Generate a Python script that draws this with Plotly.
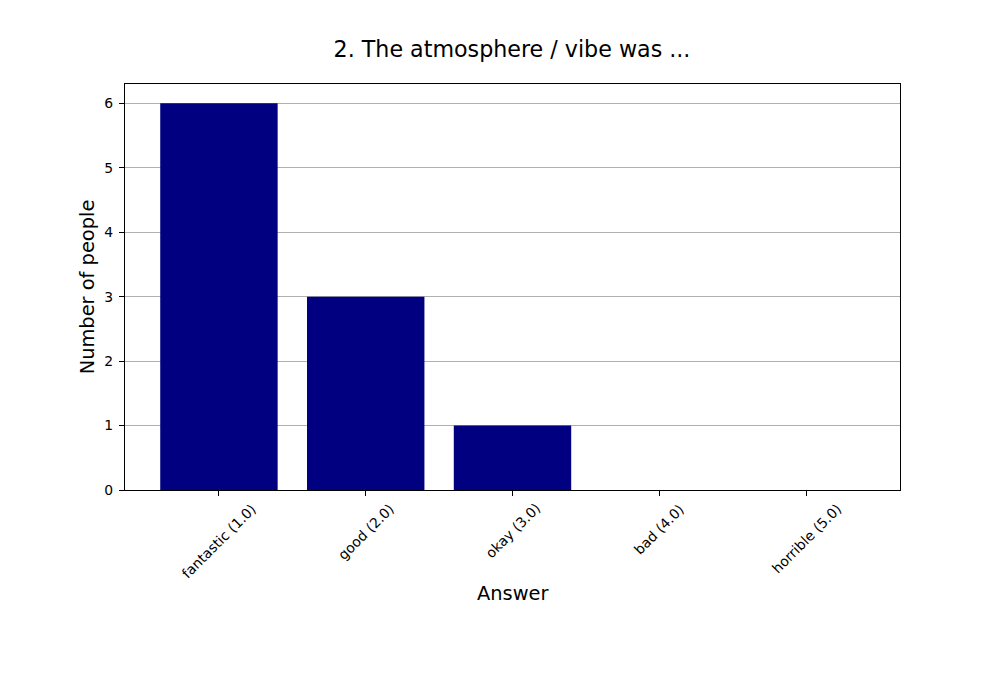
import plotly.graph_objects as go

categories = ["fantastic (1.0)", "good (2.0)", "okay (3.0)", "bad (4.0)", "horrible (5.0)"]
counts = [6, 3, 1, 0, 0]
y_ticks = [0, 1, 2, 3, 4, 5, 6]

FONT = "DejaVu Sans"
xs = list(range(len(categories)))

fig = go.Figure(go.Bar(x=xs, y=counts, width=0.8, marker=dict(color="#000080", line=dict(width=0))))

annotations = []
for i, lab in enumerate(categories):
    annotations.append(dict(x=i, xref="x", y=0, yref="paper", yanchor="top", xanchor="center",
                            text=lab, textangle=-45, showarrow=False, yshift=-8,
                            font=dict(family=FONT, size=13.9, color="black")))
annotations.append(dict(x=0.5, xref="paper", y=-0.255, yref="paper", yanchor="middle", xanchor="center",
                        text="Answer", showarrow=False, font=dict(family=FONT, size=19.4, color="black")))

fig.update_layout(
    width=1000, height=700,
    margin=dict(l=117, r=108, t=76, b=218),
    paper_bgcolor="white", plot_bgcolor="white",
    title=dict(text="2. The atmosphere / vibe was ...", x=(512 - 8) / 1000, xanchor="center", y=1 - 41 / 700, yanchor="middle",
               font=dict(family=FONT, size=22.2, color="black")),
    font=dict(family=FONT, color="black"),
    showlegend=False,
    bargap=0.2,
    annotations=annotations,
)
fig.update_xaxes(range=[-0.64, 4.64], tickvals=xs, ticktext=[""] * len(xs), showgrid=False, zeroline=False,
                 ticks="outside", ticklen=5, tickwidth=1.1, tickcolor="black",
                 showline=True, linecolor="black", linewidth=1.1, mirror=True)
fig.update_yaxes(range=[0, 6.3], tickvals=y_ticks, showgrid=True, gridcolor="#b0b0b0", gridwidth=1.1, zeroline=False,
                 ticks="outside", ticklen=5, tickwidth=1.1, tickcolor="black",
                 showline=True, linecolor="black", linewidth=1.1, mirror=True,
                 tickfont=dict(family=FONT, size=13.9, color="black"), ticklabelstandoff=3,
                 title=dict(text="Number of people", font=dict(family=FONT, size=19.4, color="black"), standoff=4))

fig.write_html("out.html")
